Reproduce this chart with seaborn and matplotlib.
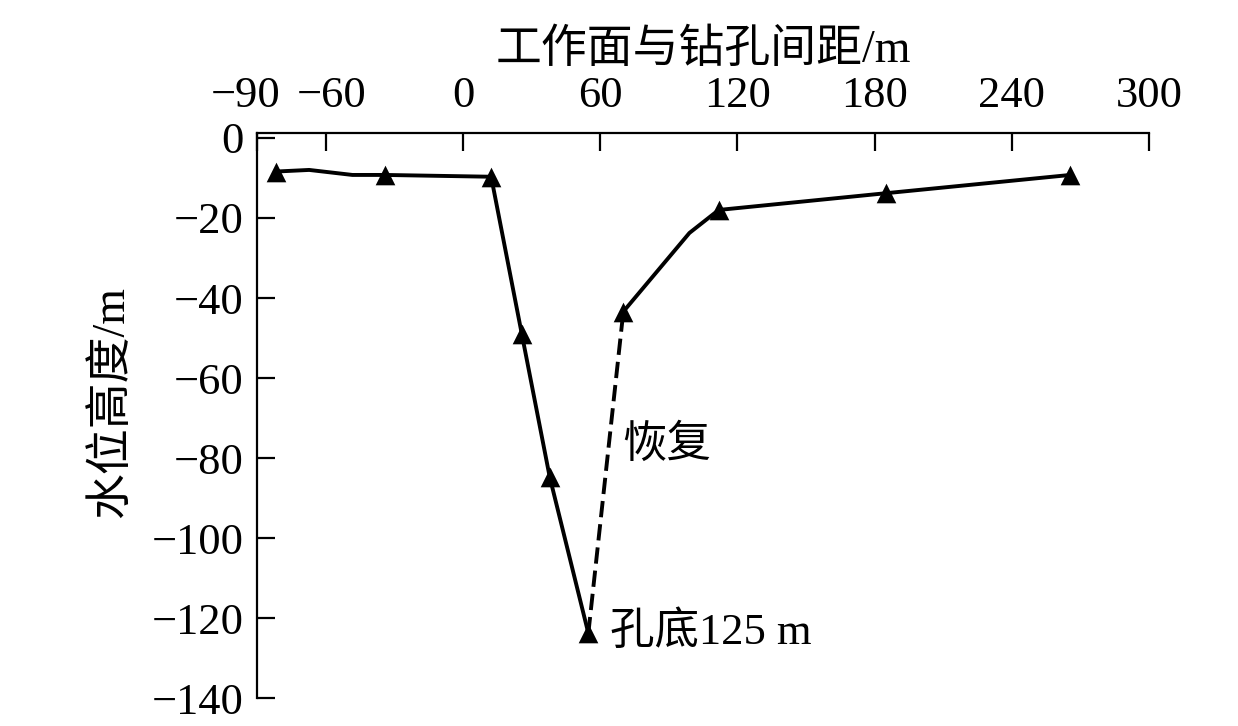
import pandas as pd
import matplotlib
matplotlib.use('Agg')
import matplotlib.pyplot as plt
import matplotlib.transforms as mtransforms
import seaborn as sns

# Estilo e fontes (definir depois do set_theme)
sns.set_theme(style='white')
plt.rcParams['font.family'] = ['Liberation Serif', 'Noto Sans CJK SC']
plt.rcParams['axes.unicode_minus'] = True

# Dados lidos do gráfico
# pontos com marcador (triângulos)
mark_x = [-81.8, -34.3, 12.3, 25.7, 37.9, 54.8, 70.1, 111.8, 185.2, 265.6]
mark_y = [-8.4, -9.25, -9.7, -49.0, -84.7, -123.75, -43.4, -18.0, -13.8, -9.25]

# trecho de rebaixamento (linha contínua)
down_x = [-81.8, -67.3, -48.4, -34.3, 12.3, 25.7, 37.9, 54.8]
down_y = [-8.4, -8.0, -9.25, -9.25, -9.7, -49.0, -84.7, -123.75]

# recuperação (tracejada)
rec_x = [54.8, 70.1]
rec_y = [-123.75, -43.4]

# trecho depois da recuperação
after_x = [70.1, 99.0, 111.8, 185.2, 265.6]
after_y = [-43.4, -23.75, -18.0, -13.8, -9.25]

xticks = [-90, -60, 0, 60, 120, 180, 240, 300]
yticks = [0, -20, -40, -60, -80, -100, -120, -140]

fig = plt.figure(figsize=(12.38, 7.26), dpi=100)
ax = fig.add_axes([0.2078, 0.0382, 0.7203, 0.779])

lw = 2.8
sns.lineplot(x=down_x, y=down_y, sort=False, estimator=None, color='black', linewidth=lw, ax=ax)
sns.lineplot(x=after_x, y=after_y, sort=False, estimator=None, color='black', linewidth=lw, ax=ax)
sns.lineplot(x=rec_x, y=rec_y, sort=False, estimator=None, color='black', linewidth=lw,
             ax=ax).lines[-1].set_dashes((4.2, 1.8))
sns.scatterplot(x=mark_x, y=mark_y, marker='^', s=200, color='black', edgecolor='black',
                linewidth=0, zorder=5, ax=ax)

ax.set_xlim(-90, 300)
ax.set_ylim(-140, 1.3)
ax.set_xticks(xticks)
ax.set_yticks(yticks)

fs = 32
ax.xaxis.tick_top()
ax.xaxis.set_label_position('top')
ax.tick_params(axis='x', which='both', top=True, bottom=False, direction='in',
               length=13, width=1.6, pad=12, labelsize=fs, colors='black')
ax.tick_params(axis='y', which='both', left=True, right=False, direction='in',
               length=13, width=1.6, pad=10, labelsize=fs, colors='black')

# afastar um pouco os rótulos -90 e -60, como no original
xlabs = ax.get_xticklabels()
xlabs[0].set_transform(xlabs[0].get_transform() + mtransforms.ScaledTranslation(-12 / 100, 0, fig.dpi_scale_trans))
xlabs[1].set_transform(xlabs[1].get_transform() + mtransforms.ScaledTranslation(6 / 100, 0, fig.dpi_scale_trans))

for side in ['right', 'bottom']:
    ax.spines[side].set_visible(False)
for side in ['top', 'left']:
    ax.spines[side].set_visible(True)
    ax.spines[side].set_color('black')
    ax.spines[side].set_linewidth(1.6)

ax.set_xlabel('工作面与钻孔间距/m', fontsize=33, labelpad=10, color='black')
ax.set_ylabel('水位高度/m', fontsize=33, color='black')
ax.yaxis.set_label_coords(-0.139, 0.524)

ax.text(89, -76.8, '恢复', fontsize=32, ha='center', va='center', color='black')
ax.text(64.1, -123.5, '孔底125 m', fontsize=32, ha='left', va='center', color='black')

ax.grid(False)
fig.savefig('out.png', dpi=100)
